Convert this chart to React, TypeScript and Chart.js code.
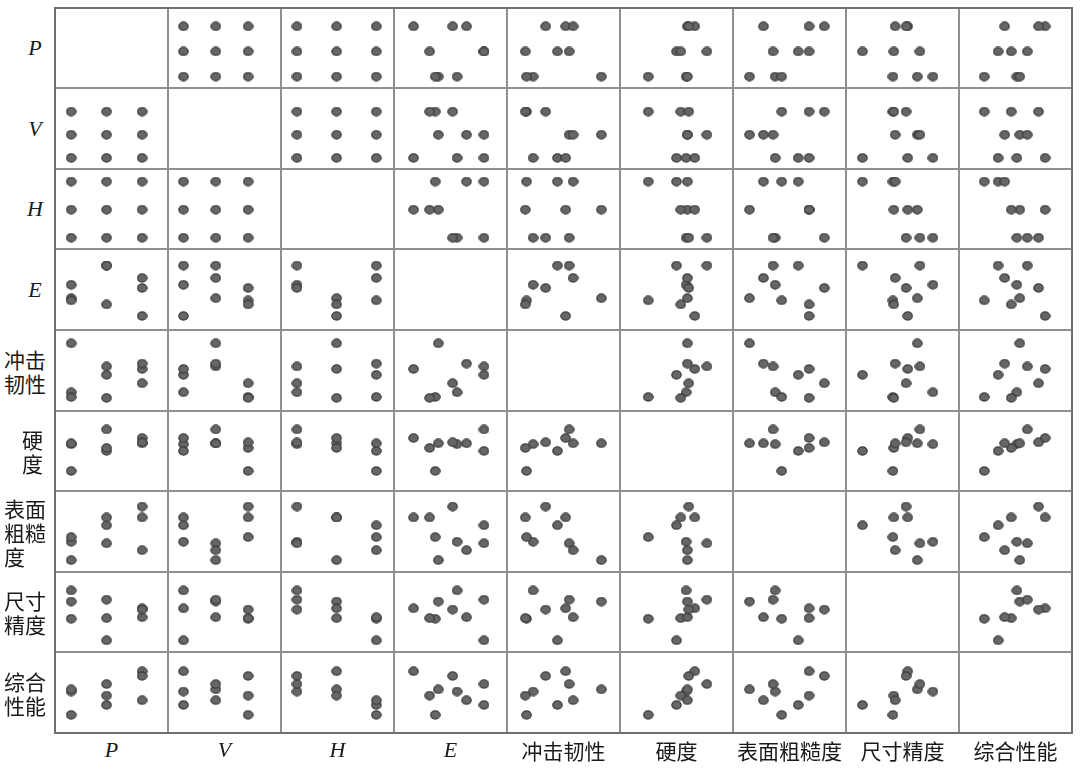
import React, { useEffect, useRef } from "react";
import { Chart, registerables } from "chart.js";

Chart.register(...registerables);

// ---- data (9 runs of an L9 orthogonal experiment) ----
const varNames = ["P", "V", "H", "E", "冲击韧性", "硬度", "表面粗糙度", "尺寸精度", "综合性能"];
const rowLabelLines = [["P"], ["V"], ["H"], ["E"], ["冲击", "韧性"], ["硬", "度"], ["表面", "粗糙", "度"], ["尺寸", "精度"], ["综合", "性能"]];

const pLevel = [1, 1, 1, 2, 2, 2, 3, 3, 3];
const vLevel = [1, 2, 3, 1, 2, 3, 1, 2, 3];
const hLevel = [1, 2, 3, 3, 1, 2, 2, 3, 1];
const eValue = [55.8, 39.2, 36.5, 79.6, 79.6, 31.5, 17.3, 64.2, 51.9];
const impactToughness = [23.1, 83.5, 17.3, 44.6, 55.0, 16.2, 51.9, 58.5, 34.2];
const hardness = [58.5, 59.6, 25.0, 50.0, 76.9, 53.8, 66.2, 59.6, 60.8];
const surfaceRoughness = [37.3, 14.6, 43.1, 57.7, 35.4, 67.3, 67.3, 26.9, 80.8];
const dimensionalAccuracy = [76.9, 63.1, 41.5, 14.6, 65.4, 42.3, 54.6, 43.5, 53.1];
const overallPerformance = [51.2, 53.8, 22.3, 34.6, 60.4, 46.2, 76.2, 40.4, 70.4];

const columns = [pLevel, vLevel, hLevel, eValue, impactToughness, hardness, surfaceRoughness, dimensionalAccuracy, overallPerformance];
const axisMin = [0.545, 0.521, 0.598, 0, 0, 0, 0, 0, 0];
const axisMax = [3.73, 4.018, 3.447, 100, 100, 100, 100, 100, 100];

// ---- layout ----
const GX = 54.5;
const GY = 7.5;
const CW = 113.1;
const CH = 80.6;
const N = 9;
const edgeX = (i: number) => Math.round(GX + i * CW);
const edgeY = (i: number) => Math.round(GY + i * CH);

let markerCache: HTMLCanvasElement | null = null;
function getMarker(): HTMLCanvasElement {
  if (markerCache) return markerCache;
  const dpr = window.devicePixelRatio || 1;
  const w = 11;
  const h = 10;
  const c = document.createElement("canvas");
  c.width = Math.round(w * dpr);
  c.height = Math.round(h * dpr);
  c.style.width = w + "px";
  c.style.height = h + "px";
  const ctx = c.getContext("2d")!;
  ctx.scale(dpr, dpr);
  ctx.beginPath();
  ctx.ellipse(w / 2, h / 2, w / 2 - 0.8, h / 2 - 0.9, 0, 0, Math.PI * 2);
  ctx.fillStyle = "#666666";
  ctx.fill();
  ctx.lineWidth = 1.2;
  ctx.strokeStyle = "#3a3a3a";
  ctx.stroke();
  markerCache = c;
  return c;
}

function Cell({ row, col }: { row: number; col: number }) {
  const ref = useRef<HTMLCanvasElement | null>(null);
  const w = edgeX(col + 1) - edgeX(col);
  const h = edgeY(row + 1) - edgeY(row);
  useEffect(() => {
    if (!ref.current) return;
    const xs = columns[col];
    const ys = columns[row];
    const pts = xs.map((x, k) => ({ x, y: ys[k] }));
    const marker = getMarker();
    const chart = new Chart(ref.current, {
      type: "scatter",
      data: {
        datasets: [
          {
            data: pts,
            pointStyle: marker as any,
            pointRadius: 5,
            clip: false as any,
          },
        ],
      },
      options: {
        animation: false,
        responsive: false,
        events: [],
        layout: { padding: 0, autoPadding: false },
        plugins: { legend: { display: false }, tooltip: { enabled: false } },
        scales: {
          x: { type: "linear", display: false, min: axisMin[col], max: axisMax[col] },
          y: { type: "linear", display: false, min: axisMin[row], max: axisMax[row] },
        },
      },
    });
    return () => chart.destroy();
  }, [row, col]);
  return (
    <canvas
      ref={ref}
      width={w}
      height={h}
      style={{ position: "absolute", left: edgeX(col), top: edgeY(row), width: w, height: h }}
    />
  );
}

const cjk = '"Noto Sans CJK SC", "Noto Sans CJK JP", sans-serif';
const latin = '"Liberation Serif", "DejaVu Serif", serif';

export default function App() {
  const cells: React.ReactNode[] = [];
  for (let r = 0; r < N; r++) {
    for (let c = 0; c < N; c++) {
      if (r !== c) cells.push(<Cell key={`${r}-${c}`} row={r} col={c} />);
    }
  }
  const lines: React.ReactNode[] = [];
  for (let i = 1; i < N; i++) {
    lines.push(
      <div key={`v${i}`} style={{ position: "absolute", left: edgeX(i) - 0.75, top: edgeY(0), width: 1.5, height: edgeY(N) - edgeY(0), background: "#8f8f8f" }} />
    );
    lines.push(
      <div key={`h${i}`} style={{ position: "absolute", left: edgeX(0), top: edgeY(i) - 0.75, width: edgeX(N) - edgeX(0), height: 1.5, background: "#8f8f8f" }} />
    );
  }
  const rowLabels = rowLabelLines.map((ls, r) => {
    const isLatin = r < 4;
    const top = (edgeY(r) + edgeY(r + 1)) / 2;
    return (
      <div
        key={`rl${r}`}
        style={{
          position: "absolute",
          left: isLatin ? 20 : r === 5 ? 22 : 4,
          width: isLatin ? 30 : 50,
          top,
          transform: "translateY(-50%)",
          textAlign: isLatin ? "center" : "left",
          fontFamily: isLatin ? latin : cjk,
          fontStyle: isLatin ? "italic" : "normal",
          fontSize: isLatin ? 22 : 21,
          lineHeight: "24px",
          color: "#1a1a1a",
          whiteSpace: "nowrap",
        }}
      >
        {ls.map((t, k) => (
          <div key={k}>{t}</div>
        ))}
      </div>
    );
  });
  const colLabels = varNames.map((t, c) => {
    const isLatin = c < 4;
    return (
      <div
        key={`cl${c}`}
        style={{
          position: "absolute",
          left: edgeX(c),
          width: edgeX(c + 1) - edgeX(c),
          top: 737,
          height: 26,
          lineHeight: "26px",
          textAlign: "center",
          fontFamily: isLatin ? latin : cjk,
          fontStyle: isLatin ? "italic" : "normal",
          fontSize: isLatin ? 22 : 21,
          color: "#1a1a1a",
          whiteSpace: "nowrap",
        }}
      >
        {t}
      </div>
    );
  });
  return (
    <div style={{ position: "absolute", left: 0, top: 0, width: 1080, height: 773, background: "#ffffff", overflow: "hidden" }}>
      {cells}
      {lines}
      <div
        style={{
          position: "absolute",
          left: edgeX(0) - 1,
          top: edgeY(0) - 1,
          width: edgeX(N) - edgeX(0) + 2,
          height: edgeY(N) - edgeY(0) + 2,
          border: "2px solid #6f6f6f",
          boxSizing: "border-box",
        }}
      />
      {rowLabels}
      {colLabels}
    </div>
  );
}
